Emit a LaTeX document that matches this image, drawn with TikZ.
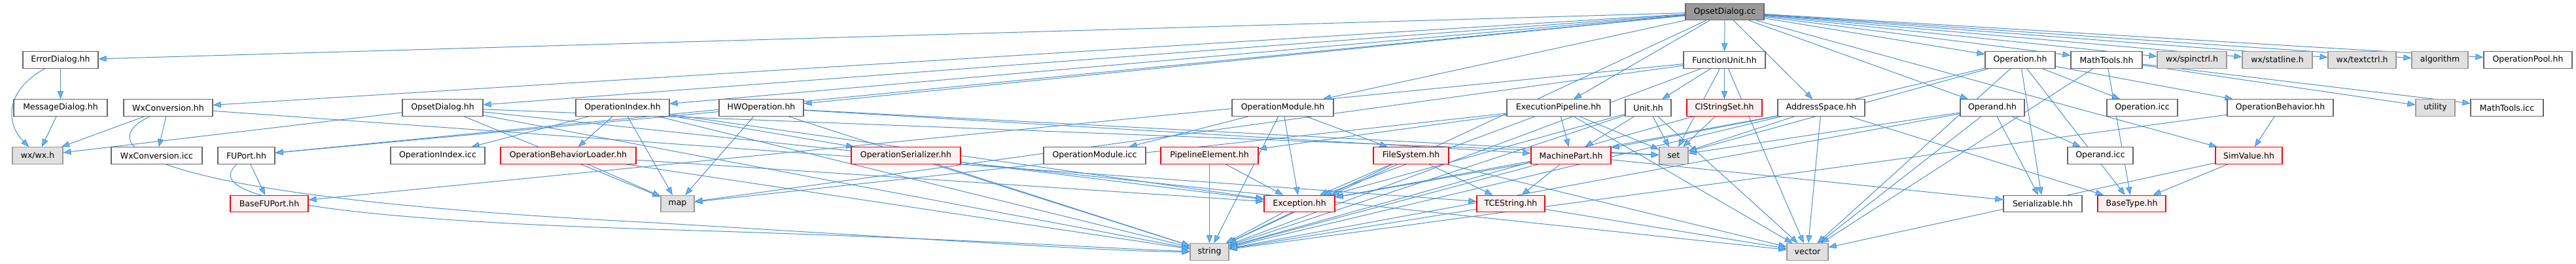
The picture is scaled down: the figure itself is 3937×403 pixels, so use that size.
\documentclass[tikz,border=0pt]{standalone}
\usepackage{fontspec}
\setmainfont{DejaVu Sans}
\usetikzlibrary{arrows.meta,backgrounds}

\definecolor{edgeblue}{RGB}{74,144,210}
\definecolor{tipblue}{RGB}{99,184,255}
\definecolor{plainfill}{RGB}{251,252,251}
\definecolor{redfill}{RGB}{255,240,240}
\definecolor{sysfill}{RGB}{224,224,224}
\definecolor{sysdraw}{RGB}{153,153,153}
\definecolor{rootfill}{RGB}{153,153,153}
\definecolor{boxdraw}{RGB}{102,102,102}

\tikzset{
  hdr/.style={draw=boxdraw, fill=plainfill, line width=1.2pt, minimum height=25.5pt, inner sep=0pt, font=\fontsize{12.5}{15}\selectfont},
  redhdr/.style={hdr, draw=red, fill=redfill},
  syshdr/.style={hdr, draw=sysdraw, fill=sysfill},
  roothdr/.style={hdr, fill=rootfill},
  inc/.style={->, draw=edgeblue, line width=1pt}
}

\begin{document}
\begin{tikzpicture}[x=1pt, y=-1pt, >={Triangle[length=12pt,width=9pt,fill=tipblue]}]
\useasboundingbox (0,0) rectangle (3937,403);
% Fichero raiz
\node[roothdr, minimum width=120] (cc) at (2636,18) {OpsetDialog.cc};
% Fila 1
\node[hdr, minimum width=115] (errdlg) at (92.5,91.5) {ErrorDialog.hh};
\node[hdr, minimum width=125] (funit) at (2635.5,91.5) {FunctionUnit.hh};
\node[hdr, minimum width=107] (operation) at (3087.5,91.5) {Operation.hh};
\node[hdr, minimum width=109] (mathtools) at (3219.5,91.5) {MathTools.hh};
\node[syshdr, minimum width=106] (spinctrl) at (3350,91.5) {wx/spinctrl.h};
\node[syshdr, minimum width=107] (statline) at (3480.5,91.5) {wx/statline.h};
\node[syshdr, minimum width=104] (textctrl) at (3610,91.5) {wx/textctrl.h};
\node[syshdr, minimum width=86] (algorithm) at (3729,91.5) {algorithm};
\node[hdr, minimum width=135] (oppool) at (3863.5,91.5) {OperationPool.hh};
% Fila 2
\node[hdr, minimum width=143] (msgdlg) at (92.5,164.5) {MessageDialog.hh};
\node[hdr, minimum width=136] (wxconv) at (257,164.5) {WxConversion.hh};
\node[hdr, minimum width=123] (opsetdlg) at (676.5,164.5) {OpsetDialog.hh};
\node[hdr, minimum width=143] (opindex) at (951.5,164.5) {OperationIndex.hh};
\node[hdr, minimum width=129] (hwop) at (1163.5,164.5) {HWOperation.hh};
\node[hdr, minimum width=155] (opmodule) at (1960.5,164.5) {OperationModule.hh};
\node[hdr, minimum width=158] (execpipe) at (2382,164.5) {ExecutionPipeline.hh};
\node[hdr, minimum width=70] (unit) at (2519,164.5) {Unit.hh};
\node[redhdr, minimum width=115] (cistrset) at (2635.5,164.5) {CIStringSet.hh};
\node[hdr, minimum width=133] (addrspace) at (2783.5,164.5) {AddressSpace.hh};
\node[hdr, minimum width=98] (operand) at (3045,164.5) {Operand.hh};
\node[hdr, minimum width=108] (opicc) at (3274,164.5) {Operation.icc};
\node[hdr, minimum width=162] (opbehav) at (3485,164.5) {OperationBehavior.hh};
\node[syshdr, minimum width=60] (utility) at (3722,164.5) {utility};
\node[hdr, minimum width=111] (mticc) at (3831.5,164.5) {MathTools.icc};
% Fila 3
\node[syshdr, minimum width=77] (wxh) at (57.5,237.5) {wx/wx.h};
\node[hdr, minimum width=139] (wxicc) at (239.5,237.5) {WxConversion.icc};
\node[hdr, minimum width=87] (fuport) at (376.5,237.5) {FUPort.hh};
\node[hdr, minimum width=144] (opidxicc) at (669,237.5) {OperationIndex.icc};
\node[redhdr, minimum width=207] (obloader) at (868.5,237.5) {OperationBehaviorLoader.hh};
\node[redhdr, minimum width=167] (opser) at (1384.5,237.5) {OperationSerializer.hh};
\node[hdr, minimum width=156] (opmodicc) at (1673,237.5) {OperationModule.icc};
\node[redhdr, minimum width=149] (pipeelem) at (1848.5,237.5) {PipelineElement.hh};
\node[redhdr, minimum width=115] (filesys) at (2156.5,237.5) {FileSystem.hh};
\node[redhdr, minimum width=122] (machpart) at (2401,237.5) {MachinePart.hh};
\node[syshdr, minimum width=44] (set) at (2558,237.5) {set};
\node[hdr, minimum width=100] (operandicc) at (3210,237.5) {Operand.icc};
\node[redhdr, minimum width=102] (simvalue) at (3437,237.5) {SimValue.hh};
% Fila 4
\node[redhdr, minimum width=119] (basefuport) at (411.5,311) {BaseFUPort.hh};
\node[syshdr, minimum width=51] (map) at (1035.5,311) {map};
\node[redhdr, minimum width=108] (exception) at (1986,311) {Exception.hh};
\node[redhdr, minimum width=104] (tcestring) at (2309,311) {TCEString.hh};
\node[hdr, minimum width=120] (serial) at (3122,311) {Serializable.hh};
\node[redhdr, minimum width=104] (basetype) at (3258,311) {BaseType.hh};
% Fila 5
\node[syshdr, minimum width=59] (string) at (1848.5,384.5) {string};
\node[syshdr, minimum width=63] (vector) at (2762.5,384.5) {vector};

\begin{scope}[on background layer]
% Includes de OpsetDialog.cc
\draw[inc] (cc) -- (errdlg);
\draw[inc] (cc) -- (wxconv);
\draw[inc] (cc) -- (fuport);
\draw[inc] (cc) -- (opsetdlg);
\draw[inc] (cc) -- (opindex);
\draw[inc] (cc) -- (hwop);
\draw[inc] (cc) -- (opmodule);
\draw[inc] (cc) -- (execpipe);
\draw[inc] (cc) -- (funit);
\draw[inc] (cc) -- (addrspace);
\draw[inc] (cc) -- (operand);
\draw[inc] (cc) -- (operation);
\draw[inc] (cc) -- (mathtools);
\draw[inc] (cc) -- (spinctrl);
\draw[inc] (cc) -- (statline);
\draw[inc] (cc) -- (textctrl);
\draw[inc] (cc) -- (algorithm);
\draw[inc] (cc) -- (oppool);
\draw[inc] (cc) -- (simvalue);
\draw[inc] (cc) -- (string);
% Dialogos y wx
\draw[inc] (errdlg) -- (msgdlg);
\draw[inc] (errdlg) .. controls (5,140) and (10,190) .. (wxh);
\draw[inc] (msgdlg) -- (wxh);
\draw[inc] (wxconv) -- (wxh);
\draw[inc] (wxconv) -- (wxicc);
\draw[inc] (wxconv) .. controls (140,220) and (200,300) .. (1000,340) .. controls (1500,370) and (1700,384) .. (string);
\draw[inc] (wxconv) -- (tcestring);
\draw[inc] (opsetdlg) -- (wxh);
\draw[inc] (opsetdlg) -- (map);
\draw[inc] (opsetdlg) -- (set);
\draw[inc] (opsetdlg) -- (string);
\draw[inc] (opsetdlg) -- (vector);
% Operaciones
\draw[inc] (opindex) -- (opidxicc);
\draw[inc] (opindex) -- (obloader);
\draw[inc] (opindex) -- (opser);
\draw[inc] (opindex) -- (map);
\draw[inc] (opindex) -- (exception);
\draw[inc] (opindex) -- (string);
\draw[inc] (obloader) -- (map);
\draw[inc] (obloader) -- (exception);
\draw[inc] (obloader) -- (string);
\draw[inc] (hwop) -- (fuport);
\draw[inc] (hwop) -- (map);
\draw[inc] (hwop) -- (machpart);
\draw[inc] (hwop) -- (set);
\draw[inc] (hwop) -- (string);
\draw[inc] (opser) -- (exception);
\draw[inc] (opser) -- (string);
\draw[inc] (opmodule) -- (opmodicc);
\draw[inc] (opmodule) -- (filesys);
\draw[inc] (opmodule) -- (exception);
\draw[inc] (opmodule) -- (string);
\draw[inc] (pipeelem) -- (exception);
\draw[inc] (pipeelem) -- (string);
\draw[inc] (filesys) -- (exception);
\draw[inc] (filesys) -- (tcestring);
\draw[inc] (filesys) -- (string);
\draw[inc] (filesys) -- (vector);
% Maquina
\draw[inc] (execpipe) -- (machpart);
\draw[inc] (execpipe) -- (pipeelem);
\draw[inc] (execpipe) -- (set);
\draw[inc] (execpipe) -- (exception);
\draw[inc] (execpipe) -- (vector);
\draw[inc] (execpipe) -- (map);
\draw[inc] (unit) -- (machpart);
\draw[inc] (unit) -- (set);
\draw[inc] (unit) -- (exception);
\draw[inc] (unit) -- (string);
\draw[inc] (unit) -- (vector);
\draw[inc] (cistrset) -- (set);
\draw[inc] (cistrset) -- (string);
\draw[inc] (funit) -- (unit);
\draw[inc] (funit) -- (cistrset);
\draw[inc] (funit) -- (basefuport);
\draw[inc] (funit) -- (map);
\draw[inc] (funit) -- (set);
\draw[inc] (funit) -- (string);
\draw[inc] (funit) -- (vector);
\draw[inc] (addrspace) -- (machpart);
\draw[inc] (addrspace) -- (set);
\draw[inc] (addrspace) -- (exception);
\draw[inc] (addrspace) -- (basetype);
\draw[inc] (addrspace) -- (vector);
\draw[inc] (machpart) -- (tcestring);
\draw[inc] (machpart) -- (exception);
\draw[inc] (machpart) -- (serial);
\draw[inc] (machpart) -- (string);
\draw[inc] (fuport) -- (basefuport);
\draw[inc] (fuport) .. controls (330,280) and (340,330) .. (1000,350) .. controls (1500,365) and (1700,380) .. (string);
% Operandos y valores
\draw[inc] (operand) -- (operandicc);
\draw[inc] (operand) -- (serial);
\draw[inc] (operand) -- (set);
\draw[inc] (operand) -- (string);
\draw[inc] (operand) -- (vector);
\draw[inc] (operation) -- (opicc);
\draw[inc] (operation) -- (opbehav);
\draw[inc] (operation) -- (serial);
\draw[inc] (operation) -- (basetype);
\draw[inc] (operation) -- (set);
\draw[inc] (operation) -- (string);
\draw[inc] (operation) -- (vector);
\draw[inc] (mathtools) -- (mticc);
\draw[inc] (mathtools) -- (utility);
\draw[inc] (mathtools) -- (basetype);
\draw[inc] (mathtools) -- (vector);
\draw[inc] (opbehav) -- (simvalue);
\draw[inc] (opbehav) -- (string);
\draw[inc] (simvalue) -- (basetype);
\draw[inc] (simvalue) -- (vector);
\draw[inc] (exception) -- (string);
\draw[inc] (tcestring) -- (string);
\draw[inc] (tcestring) -- (vector);
\end{scope}
\end{tikzpicture}
\end{document}
